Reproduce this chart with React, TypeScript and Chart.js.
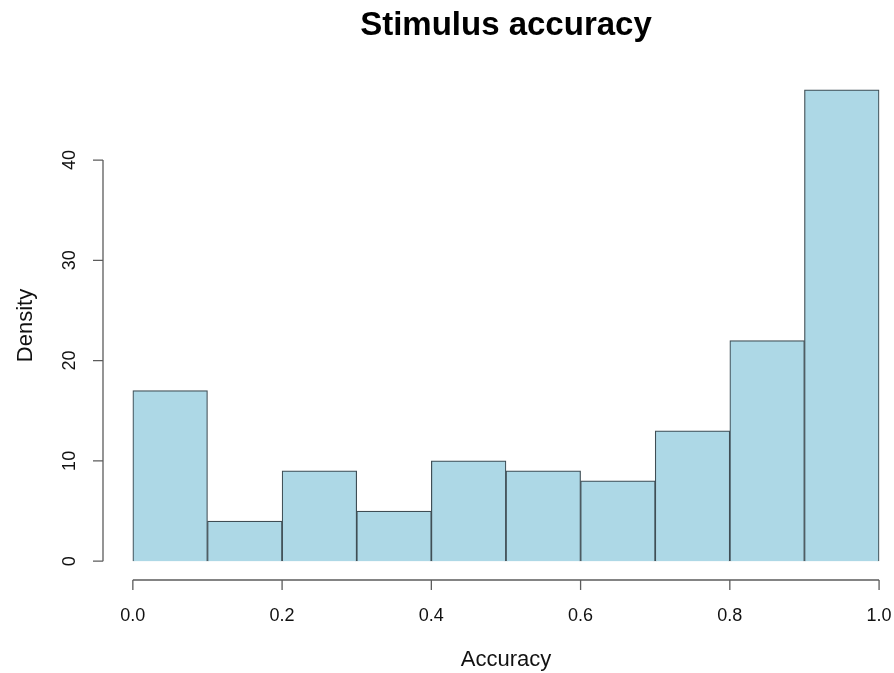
import React, { useEffect, useRef } from "react";
import { Chart, registerables } from "chart.js";

Chart.register(...registerables);

const binStarts = [0.0, 0.1, 0.2, 0.3, 0.4, 0.5, 0.6, 0.7, 0.8, 0.9];
const binWidth = 0.1;
const densities = [17, 4, 9, 5, 10, 9, 8, 13, 22, 47];
const xTicks = [0.0, 0.2, 0.4, 0.6, 0.8, 1.0];
const yTicks = [0, 10, 20, 30, 40];
const titleText = "Stimulus accuracy";
const xLabel = "Accuracy";
const yLabel = "Density";

const FONT = "'Liberation Sans', Arial, Helvetica, sans-serif";

const rAxesPlugin = {
  id: "rAxes",
  afterDraw(chart: any) {
    const ctx = chart.ctx as CanvasRenderingContext2D;
    const xs = chart.scales.x;
    const ys = chart.scales.y;
    const area = chart.chartArea;
    const axisColor = "#5c5c5c";
    const tickLen = 10;
    ctx.save();
    ctx.strokeStyle = axisColor;
    ctx.lineWidth = 1.3;

    // x axis
    const xAxisY = area.bottom;
    const x0 = xs.getPixelForValue(xTicks[0]);
    const x1 = xs.getPixelForValue(xTicks[xTicks.length - 1]);
    ctx.beginPath();
    ctx.moveTo(x0, xAxisY);
    ctx.lineTo(x1, xAxisY);
    xTicks.forEach((t) => {
      const px = xs.getPixelForValue(t);
      ctx.moveTo(px, xAxisY);
      ctx.lineTo(px, xAxisY + tickLen);
    });
    ctx.stroke();

    // y axis
    const yAxisX = area.left;
    const y0 = ys.getPixelForValue(yTicks[0]);
    const y1 = ys.getPixelForValue(yTicks[yTicks.length - 1]);
    ctx.beginPath();
    ctx.moveTo(yAxisX, y0);
    ctx.lineTo(yAxisX, y1);
    yTicks.forEach((t) => {
      const py = ys.getPixelForValue(t);
      ctx.moveTo(yAxisX, py);
      ctx.lineTo(yAxisX - tickLen, py);
    });
    ctx.stroke();

    // tick labels
    ctx.fillStyle = "#111";
    ctx.font = `18px ${FONT}`;
    ctx.textAlign = "center";
    ctx.textBaseline = "middle";
    xTicks.forEach((t) => {
      const px = xs.getPixelForValue(t);
      ctx.fillText(t.toFixed(1), px, xAxisY + 36);
    });
    yTicks.forEach((t) => {
      const py = ys.getPixelForValue(t);
      ctx.save();
      ctx.translate(yAxisX - 33, py);
      ctx.rotate(-Math.PI / 2);
      ctx.fillText(String(t), 0, 0);
      ctx.restore();
    });

    // axis labels
    const midX = (area.left + xs.getPixelForValue(1.04)) / 2;
    ctx.font = `22px ${FONT}`;
    ctx.textBaseline = "alphabetic";
    ctx.fillText(xLabel, midX, 666);
    ctx.save();
    ctx.translate(32, (area.top + area.bottom) / 2);
    ctx.rotate(-Math.PI / 2);
    ctx.fillText(yLabel, 0, 0);
    ctx.restore();

    // title
    ctx.fillStyle = "#000";
    ctx.font = `bold 33px ${FONT}`;
    ctx.fillText(titleText, midX, 35);
    ctx.restore();
  },
};

export default function App() {
  const canvasRef = useRef<HTMLCanvasElement | null>(null);

  useEffect(() => {
    if (!canvasRef.current) return;
    const chart = new Chart(canvasRef.current, {
      type: "bar",
      data: {
        datasets: [
          {
            data: binStarts.map((s, i) => ({ x: s + binWidth / 2, y: densities[i] })),
            backgroundColor: "#ADD8E6",
            borderColor: "#3f4e55",
            borderWidth: 1.2,
            barPercentage: 1,
            categoryPercentage: 1,
          },
        ],
      },
      options: {
        responsive: false,
        animation: false,
        layout: { padding: { left: 103, right: 0, top: 71, bottom: 93 } },
        plugins: {
          legend: { display: false },
          tooltip: { enabled: false },
          title: { display: false },
        },
        scales: {
          x: {
            type: "linear",
            min: -0.04,
            max: 1.02,
            offset: false,
            display: false,
          },
          y: {
            type: "linear",
            min: -1.88,
            max: 48.88,
            display: false,
          },
        },
      },
      plugins: [rAxesPlugin],
    });
    return () => chart.destroy();
  }, []);

  return (
    <div style={{ position: "fixed", left: 0, top: 0, width: 894, height: 673, background: "#fff" }}>
      <canvas ref={canvasRef} width={894} height={673} style={{ display: "block" }} />
    </div>
  );
}
